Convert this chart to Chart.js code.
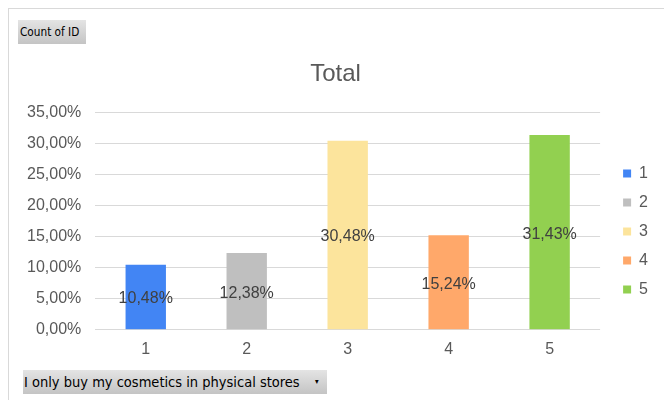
<!DOCTYPE html>
<html>
<head>
<meta charset="utf-8">
<script src="https://cdn.jsdelivr.net/npm/chart.js@4"></script>
<style>
  html, body { margin: 0; padding: 0; background: #fff; }
  body { width: 664px; height: 400px; position: relative; overflow: hidden; }
  .frame {
    position: absolute; left: 8px; top: 8px; width: 660px; height: 400px;
    border-left: 1px solid #d9d9d9; border-top: 1px solid #d9d9d9;
  }
  .btn {
    position: absolute;
    background: linear-gradient(#e4e4e4, #c4c4c4);
    font-family: "DejaVu Sans Condensed", "DejaVu Sans", sans-serif;
    color: #000; white-space: nowrap; overflow: hidden;
  }
  .btn span { display: inline-block; transform-origin: left center; }
  #fieldBtn { left: 18px; top: 20px; height: 24px; width: 68px; font-size: 13px; line-height: 24px; }
  #fieldBtn span { transform: scaleX(0.9); margin-left: 2px; }
  #axisBtn { left: 23px; top: 370px; height: 24px; width: 304px; font-size: 14.5px; line-height: 24px; }
  #axisBtn span { margin-left: 1px; }
  #axisBtn i { position: absolute; left: 292px; top: 0; font-style: normal; font-size: 8px; }
  .chart-box { position: absolute; left: 13px; top: 54px; width: 651px; height: 307px; }
</style>
</head>
<body>
<div class="frame"></div>
<div class="btn" id="fieldBtn"><span>Count of ID</span></div>
<div class="chart-box"><canvas id="chart"></canvas></div>
<div class="btn" id="axisBtn"><span>I only buy my cosmetics in physical stores</span><i>&#9662;</i></div>
<script>
const categories = [ '1', '2', '3', '4', '5' ];
const shares = [ 0.1048, 0.1238, 0.3048, 0.1524, 0.3143 ];
const barColors = [ '#4285f4', '#bfbfbf', '#fce49c', '#ffa86a', '#92d050' ];
const yTicks = [ 0, 0.05, 0.10, 0.15, 0.20, 0.25, 0.30, 0.35 ];

const pct = v => ( v * 100 ).toFixed( 2 ).replace( '.', ',' ) + '%';

// labels in the middle of each bar, like the Excel data labels
const barLabels = {
    id: 'barLabels',
    afterDatasetsDraw ( chart ) {
        const ctx = chart.ctx;
        const meta = chart.getDatasetMeta( 0 );
        ctx.save();
        ctx.font = '16px "Liberation Sans", Arial, sans-serif';
        ctx.fillStyle = '#404040';
        ctx.textAlign = 'center';
        ctx.textBaseline = 'middle';
        meta.data.forEach( ( bar, i ) => {
            const mid = ( bar.y + bar.base ) / 2;
            ctx.fillText( pct( shares[ i ] ), bar.x, mid + 2 );
        } );
        ctx.restore();
    }
};

Chart.defaults.font.family = '"Liberation Sans", Arial, sans-serif';
Chart.defaults.font.size = 16;
Chart.defaults.color = '#595959';
Chart.defaults.animation = false;

new Chart( document.getElementById( 'chart' ), {
    type: 'bar',
    data: {
        labels: categories,
        datasets: [ {
            label: 'Total',
            data: shares,
            backgroundColor: barColors,
            categoryPercentage: 0.8,
            barPercentage: 0.5
        } ]
    },
    options: {
        responsive: true,
        maintainAspectRatio: false,
        layout: { padding: { left: 0, right: 6, top: 0, bottom: 0 } },
        plugins: {
            title: {
                display: true,
                text: 'Total',
                color: '#595959',
                font: { size: 24, weight: 400 },
                padding: { top: 6, bottom: 24 }
            },
            legend: {
                position: 'right',
                title: {
                    display: true,
                    text: ' ',
                    font: { size: 15 },
                    padding: { top: 15, bottom: 15 }
                },
                labels: {
                    boxWidth: 8,
                    boxHeight: 8,
                    padding: 13,
                    color: '#595959',
                    font: { size: 16 },
                    generateLabels: () => categories.map( ( c, i ) => ( {
                        text: c,
                        fillStyle: barColors[ i ],
                        strokeStyle: barColors[ i ],
                        lineWidth: 0,
                        index: i
                    } ) )
                }
            },
            tooltip: { enabled: false }
        },
        scales: {
            x: {
                grid: { display: false },
                border: { display: false },
                ticks: { padding: 2 }
            },
            y: {
                min: 0,
                max: 0.35,
                afterBuildTicks: axis => { axis.ticks = yTicks.map( v => ( { value: v } ) ); },
                ticks: { callback: v => pct( v ), padding: 14 },
                grid: { color: '#d9d9d9', drawTicks: false },
                border: { display: false }
            },
            gap: {
                position: 'right',
                display: true,
                grid: { display: false },
                border: { display: false },
                ticks: { display: false },
                afterFit: axis => { axis.width = 10; }
            }
        }
    },
    plugins: [ barLabels ]
} );
</script>
</body>
</html>
